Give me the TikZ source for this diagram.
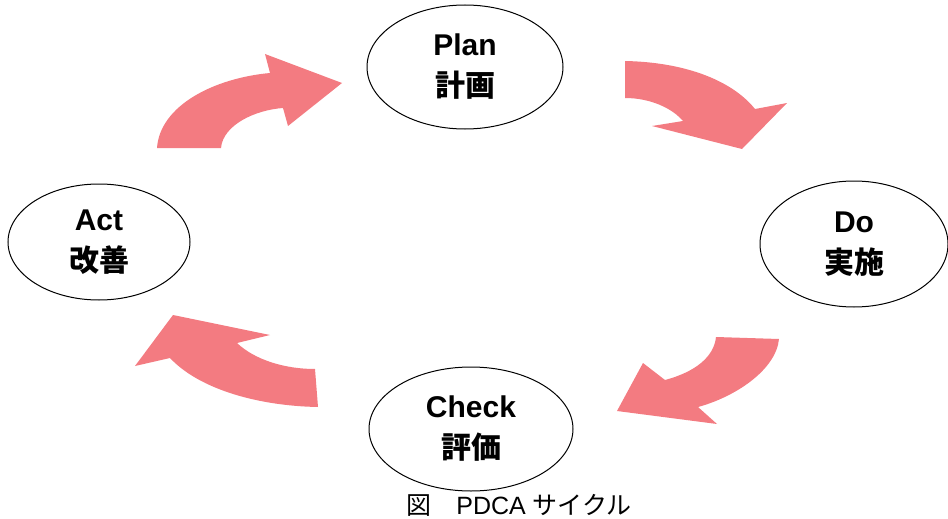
\documentclass[tikz,border=0pt]{standalone}
\usepackage{fontspec}
\setmainfont{Liberation Sans}
\newfontfamily\cjk{Noto Sans CJK JP}
\usepackage{tikz}
\usetikzlibrary{shapes.geometric}
\definecolor{cyclepink}{RGB}{243,123,129}

\begin{document}
\begin{tikzpicture}[%
    x=1pt, y=-1pt,
    align=center,
    phase/.style={%
      ellipse,
      draw,
      line width=1pt,
      inner sep=0pt,
      font=\fontsize{30}{41}\selectfont\bfseries
    },
    cyclearrow/.style={fill=cyclepink, draw=none}
  ]
    \useasboundingbox (0,0) rectangle (948,519);

    \node[phase, minimum width=196pt, minimum height=124pt] (plan) at (465,67) {Plan\\{\cjk 計画}};

    \node[phase, minimum width=188pt, minimum height=126pt] (do) at (854,244) {Do\\{\cjk 実施}};

    \node[phase, minimum width=204pt, minimum height=124pt] (check) at (471,429) {\raisebox{-5pt}{Check}\\\raisebox{-5pt}{\cjk 評価}};

    \node[phase, minimum width=182pt, minimum height=116pt] (act) at (99,242) {Act\\{\cjk 改善}};

    \node[font=\fontsize{25}{30}\selectfont, inner sep=0pt, anchor=base] (caption) at (519,514) {{\cjk 図　}PDCA {\cjk サイクル}};

    % block arrows round the cycle
    \fill[cyclearrow] (157,148) .. controls (160,105) and (215,78) .. (270,73)
      -- (265,54) -- (342,83) -- (288,126) -- (283,108)
      .. controls (255,110) and (223,125) .. (221,148) -- cycle;

    \fill[cyclearrow] (625,61) .. controls (680,62) and (730,78) .. (755,109)
      -- (787,103) -- (742,149) -- (652,126) -- (683,121)
      .. controls (672,108) and (650,98) .. (625,98) -- cycle;

    \fill[cyclearrow] (779,339) .. controls (776,370) and (735,397) .. (698,407)
      -- (717,424) -- (617,411) -- (643,363) -- (665,380)
      .. controls (695,372) and (714,357) .. (716,337) -- cycle;

    \fill[cyclearrow] (318,407) .. controls (260,406) and (200,390) .. (170,358)
      -- (135,366) -- (173,315) -- (270,335) -- (237,343)
      .. controls (255,360) and (285,369) .. (315,369) -- cycle;
\end{tikzpicture}
\end{document}
